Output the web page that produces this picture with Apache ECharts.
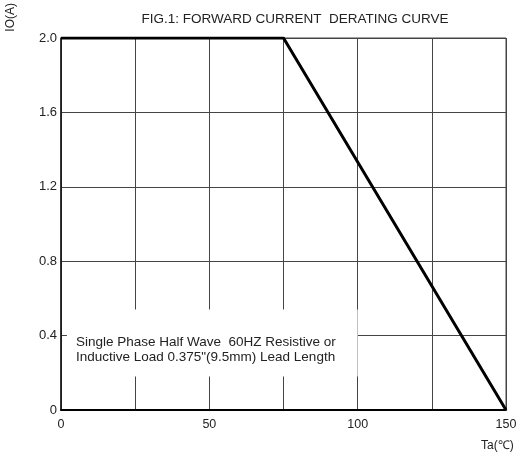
<!DOCTYPE html>
<html>
<head>
<meta charset="utf-8">
<script src="https://cdn.jsdelivr.net/npm/echarts@6/dist/echarts.min.js"></script>
<style>
html,body{margin:0;padding:0;background:#fff;}
#chart{width:520px;height:454px;}
</style>
</head>
<body>
<div id="chart"></div>
<script>
var curveTa = [0, 75, 150];
var curveIo = [2.0, 2.0, 0];
var xTickLabels = [0, 50, 100, 150];
var yTickLabels = [0, 0.4, 0.8, 1.2, 1.6, 2.0];
var noteText = 'Single Phase Half Wave  60HZ Resistive or\nInductive Load 0.375"(9.5mm) Lead Length';
var noteBox = [[2, 0.18], [100, 0.54]];

var chart = echarts.init(document.getElementById('chart'));
var font = '"Liberation Sans", Arial, sans-serif';
chart.setOption({
  animation: false,
  backgroundColor: '#fff',
  title: {
    text: 'FIG.1: FORWARD CURRENT  DERATING CURVE',
    left: 290, top: 7, textAlign: 'center',
    textStyle: {fontFamily: font, fontSize: 13.5, fontWeight: 'normal', color: '#222'}
  },
  graphic: [
    {type: 'text', left: 5, top: 3, rotation: Math.PI / 2,
     style: {text: 'IO(A)', font: '12px ' + font, fill: '#222'}},
    {type: 'text', left: 481, top: 440,
     style: {text: 'Ta(\u2103)', font: '12px ' + font, fill: '#222'}}
  ],
  grid: {left: 61, right: 14, top: 38, bottom: 44, show: true, borderColor: '#444', borderWidth: 1},
  xAxis: {
    type: 'value', min: 0, max: 150, interval: 25,
    axisLine: {show: true, onZero: false, lineStyle: {color: '#000', width: 2}},
    axisTick: {show: false},
    splitLine: {show: true, lineStyle: {color: '#444', width: 1}},
    axisLabel: {
      margin: 8, color: '#222', fontFamily: font, fontSize: 12.5,
      formatter: function (v) { return xTickLabels.indexOf(v) >= 0 ? String(v) : ''; }
    }
  },
  yAxis: {
    type: 'value', min: 0, max: 2.0, interval: 0.4,
    axisLine: {show: true, lineStyle: {color: '#111', width: 1.5}},
    axisTick: {show: false},
    splitLine: {show: true, lineStyle: {color: '#444', width: 1}},
    axisLabel: {
      margin: 4, color: '#222', fontFamily: font, fontSize: 13,
      formatter: function (v) {
        var r = Math.round(v * 10) / 10;
        if (r === 0) return '0';
        return r.toFixed(1);
      }
    }
  },
  series: [{
    type: 'line',
    data: curveTa.map(function (t, i) { return [t, curveIo[i]]; }),
    symbol: 'none',
    lineStyle: {color: '#000', width: 3},
    z: 5,
    markArea: {
      silent: true,
      itemStyle: {color: '#fff'},
      label: {
        show: true, position: 'insideLeft', distance: 9, offset: [0, 7],
        color: '#222', fontFamily: font, fontSize: 13.5, lineHeight: 15,
        formatter: noteText
      },
      data: [[{coord: noteBox[0]}, {coord: noteBox[1]}]]
    }
  }]
});
</script>
</body>
</html>
